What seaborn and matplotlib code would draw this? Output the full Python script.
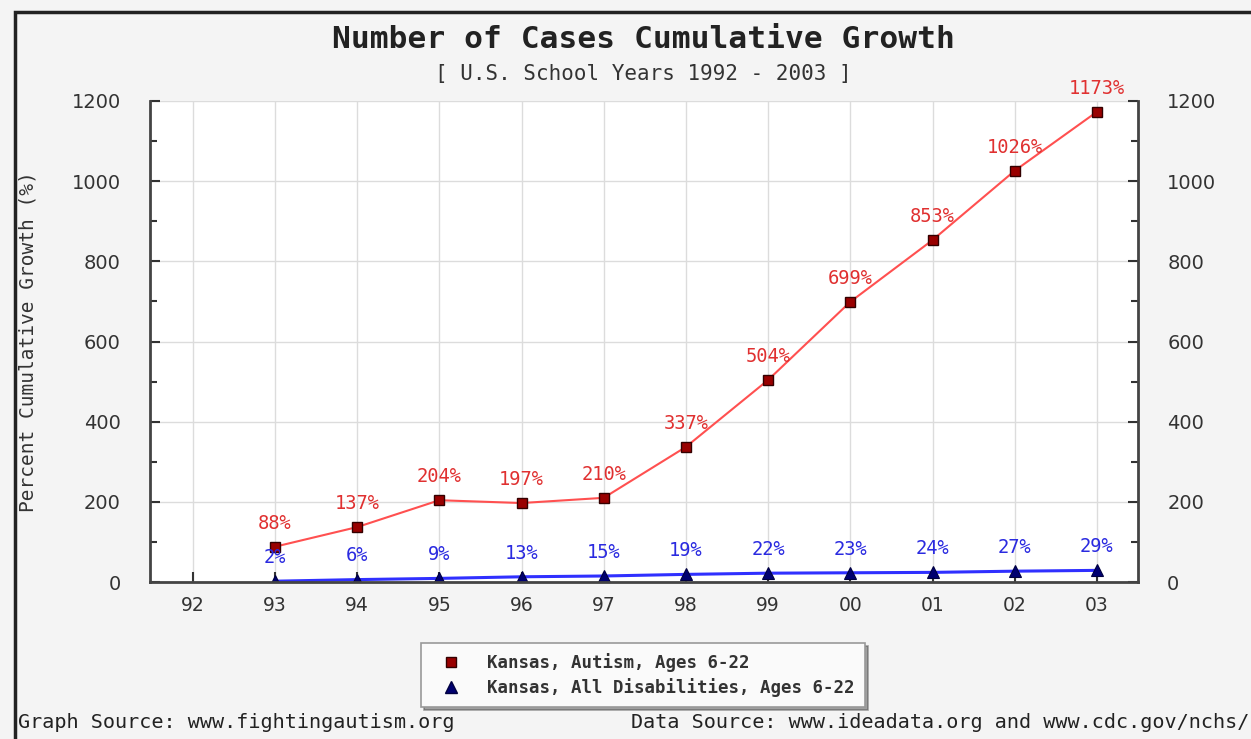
import matplotlib

matplotlib.use("Agg")
import matplotlib.pyplot as plt
import pandas as pd
import seaborn as sns
from matplotlib.patches import Rectangle
from matplotlib.lines import Line2D

years = ["92", "93", "94", "95", "96", "97", "98", "99", "00", "01", "02", "03"]
autism = [None, 88, 137, 204, 197, 210, 337, 504, 699, 853, 1026, 1173]
all_dis = [None, 2, 6, 9, 13, 15, 19, 22, 23, 24, 27, 29]
yticks = [0, 200, 400, 600, 800, 1000, 1200]

series_names = ["Kansas, Autism, Ages 6-22", "Kansas, All Disabilities, Ages 6-22"]

BG = "#f4f4f4"
MONO = "DejaVu Sans Mono"

sns.set_style("white")
plt.rcParams["font.family"] = ["DejaVu Sans"]

df = pd.DataFrame({"pos": range(len(years)), "year": years, "autism": autism, "all_dis": all_dis})
df = df.dropna()

fig = plt.figure(figsize=(12.51, 7.39), dpi=100, facecolor=BG)
ax = fig.add_axes([150 / 1251, 1 - 582 / 739, 988 / 1251, 481 / 739])
ax.set_facecolor("white")

sns.lineplot(data=df, x="pos", y="autism", ax=ax, color="#ff5050", linewidth=1.5,
             marker="s", markersize=7, markerfacecolor="#990000", markeredgecolor="#330000",
             markeredgewidth=1.0)
sns.lineplot(data=df, x="pos", y="all_dis", ax=ax, color="#3030ff", linewidth=2.2,
             marker="^", markersize=9, markerfacecolor="#000070", markeredgecolor="#000040",
             markeredgewidth=0.8)

for _, r in df.iterrows():
    ax.annotate(f"{int(r['autism'])}%", (r["pos"], r["autism"]), xytext=(0, 17),
                textcoords="offset points", ha="center", va="center",
                fontsize=13.5, family=MONO, color="#e03030")
    ax.annotate(f"{int(r['all_dis'])}%", (r["pos"], r["all_dis"]), xytext=(0, 17),
                textcoords="offset points", ha="center", va="center",
                fontsize=13.5, family=MONO, color="#2a2ae0")

ax.set_xlim(-0.52, len(years) - 0.5)
ax.set_ylim(0, 1200)
ax.set_xticks(range(len(years)))
ax.set_xticklabels(years)
ax.set_yticks(yticks)
ax.set_yticks([100, 300, 500, 700, 900, 1100], minor=True)
ax.set_xlabel("")
ax.set_ylabel("Percent Cumulative Growth (%)", family=MONO, fontsize=14, color="#333333")
ax.yaxis.set_label_coords(-112 / 988, 0.5)

ax.grid(True, which="major", color="#dcdcdc", linewidth=1.0)
ax.tick_params(axis="y", which="both", direction="in", left=True, right=True,
               labelleft=True, labelright=True, labelsize=14, colors="#333333",
               length=7, width=1.5, pad=21)
ax.tick_params(axis="y", which="minor", length=5)
ax.tick_params(axis="x", direction="in", bottom=True, labelsize=13.5, colors="#333333",
               length=7, width=1.5, pad=10)

for side in ["left", "right", "bottom"]:
    ax.spines[side].set_visible(True)
    ax.spines[side].set_color("#444444")
    ax.spines[side].set_linewidth(2)
ax.spines["top"].set_visible(False)

fig.text(643 / 1251, 1 - 40 / 739, "Number of Cases Cumulative Growth", ha="center", va="center",
         family=MONO, fontsize=22.5, fontweight="bold", color="#222222")
fig.text(643 / 1251, 1 - 74 / 739, "[ U.S. School Years 1992 - 2003 ]", ha="center", va="center",
         family=MONO, fontsize=15, color="#333333")

handles = [
    Line2D([], [], linestyle="none", marker="s", markersize=7, markerfacecolor="#990000",
           markeredgecolor="#330000"),
    Line2D([], [], linestyle="none", marker="^", markersize=9, markerfacecolor="#000070",
           markeredgecolor="#000040"),
]
leg = fig.legend(handles, series_names, loc="center", bbox_to_anchor=(643 / 1251, 1 - 675 / 739),
                 prop={"family": MONO, "size": 12.5, "weight": "bold"}, frameon=True, fancybox=False,
                 shadow=True, edgecolor="#999999", facecolor="#fafafa", labelspacing=0.3,
                 handletextpad=1.0, borderpad=0.6, borderaxespad=0, handlelength=2.2)
leg.get_frame().set_linewidth(1.2)
for t in leg.get_texts():
    t.set_color("#333333")

fig.text(18 / 1251, 1 - 722 / 739, "Graph Source: www.fightingautism.org", ha="left", va="center",
         family=MONO, fontsize=14.5, color="#222222")
fig.text(1249 / 1251, 1 - 722 / 739, "Data Source: www.ideadata.org and www.cdc.gov/nchs/",
         ha="right", va="center", family=MONO, fontsize=14.5, color="#222222")

fig.patches.append(Rectangle((15 / 1251, -0.02), 1.1, 1 - 12 / 739 + 0.02, transform=fig.transFigure,
                             fill=False, edgecolor="#222222", linewidth=2.5))

fig.savefig("out.png", dpi=100, facecolor=BG)
